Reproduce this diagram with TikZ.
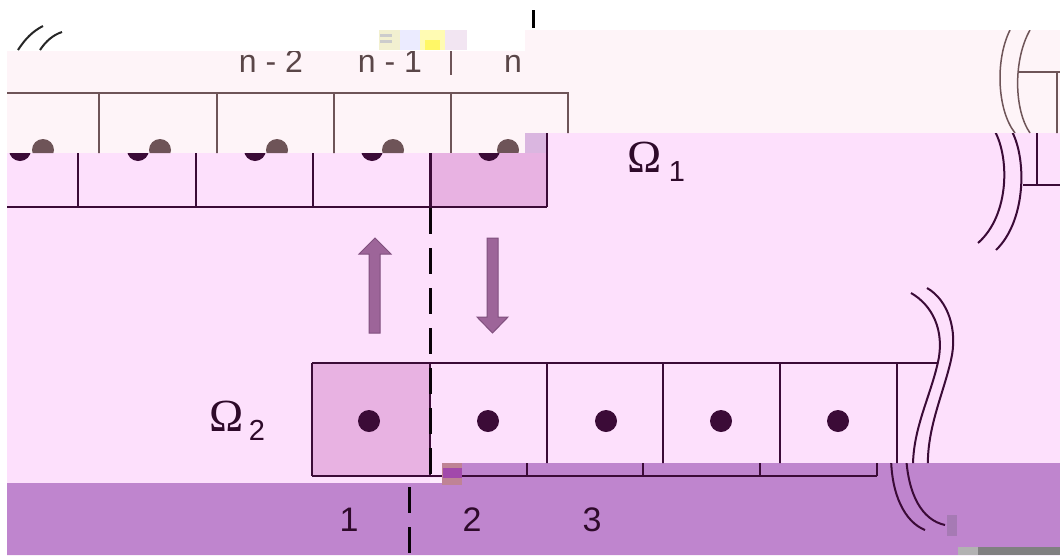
\documentclass[tikz,border=0pt]{standalone}
\usepackage{fontspec}
\setmainfont{Liberation Sans}
\newfontfamily\omegafont{Liberation Serif}
\definecolor{bandB}{HTML}{FEF4F8}
\definecolor{bandC}{HTML}{FDE0FC}
\definecolor{bandD}{HTML}{BF85CE}
\definecolor{hilite}{HTML}{E8B2E2}
\definecolor{hilite2}{HTML}{DAB6E0}
\definecolor{cdark}{HTML}{3B0B37}
\definecolor{bgrey}{HTML}{6E5458}
\definecolor{tgrey}{HTML}{5A4648}
\definecolor{txt}{HTML}{2E0A2A}
\definecolor{arrfill}{HTML}{9D6599}
\definecolor{arredge}{HTML}{80507E}
\definecolor{glitchp}{HTML}{A67AB4}
\begin{document}
\begin{tikzpicture}[x=1pt,y=-1pt,
  cline/.style={draw=cdark,line width=2pt},
  bline/.style={draw=bgrey,line width=2pt},
  cdot/.style={fill=cdark},
  bdot/.style={fill=bgrey},
  dashline/.style={draw=black!85!cdark,line width=3pt,line cap=butt},
  toplab/.style={anchor=base,inner sep=0pt,text=tgrey,font=\fontsize{32}{38}\selectfont},
  botlab/.style={anchor=base,inner sep=0pt,text=txt,font=\fontsize{34}{40}\selectfont},
  omeg/.style={anchor=base,inner sep=0pt,text=txt,font=\omegafont\fontsize{46}{54}\selectfont},
  subl/.style={anchor=base,inner sep=0pt,text=txt,font=\fontsize{29}{34}\selectfont},
  bigarrow/.style={fill=arrfill,draw=arredge,line width=1pt}]
\useasboundingbox (0,0) rectangle (1060,555);
\fill[white] (0,0) rectangle (1060,555);
% bands
\fill[bandB] (7,51) -- (525,51) -- (525,30) -- (1060,30) -- (1060,133) -- (525,133) -- (525,153) -- (7,153) -- cycle;
\fill[bandC] (7,153) -- (525,153) -- (525,133) -- (1060,133) -- (1060,463) -- (442,463) -- (442,483) -- (7,483) -- cycle;
\fill[bandD] (7,483) -- (442,483) -- (442,463) -- (1060,463) -- (1060,555) -- (7,555) -- cycle;

% ---------- band A (white) ----------
\draw[line width=2pt,draw=black!85] (18,50) .. controls (25,39) and (33,31) .. (43,26);
\draw[line width=2pt,draw=black!85] (40,50) .. controls (46,41) and (53,35) .. (62,32);
\fill[black] (532,10) rectangle (535,28);
\fill[black!30!yellow!20] (379,30) rectangle (400,50);
\fill[white!60!gray] (380,34) rectangle (392,37);
\fill[white!60!gray] (380,40) rectangle (392,43);
\fill[blue!8] (400,30) rectangle (420,50);
\fill[yellow!30!white] (420,30) rectangle (445,50);
\fill[yellow!60!white] (425,40) rectangle (440,50);
\fill[violet!10] (445,30) rectangle (467,50);

% ---------- band B (light, shifted) ----------
\begin{scope}
\clip (7,51) -- (525,51) -- (525,30) -- (1060,30) -- (1060,133) -- (525,133) -- (525,153) -- (7,153) -- cycle;
\draw[bline] (0,93) -- (568,93) -- (568,140);
\foreach \x in {99,217,334,451} \draw[bline] (\x,93) -- (\x,160);
\foreach \x in {43,160,277,393,508} \fill[bdot] (\x,150) circle (11);
\draw[draw=bgrey,line width=2.5pt] (451,50) -- (451,75);
\node[toplab] (lab2) at (271,72) {n - 2};
\node[toplab] (lab1) at (390,72) {n - 1};
\node[toplab] (labn) at (513,72) {n};
\draw[bline,line width=1.5pt] (1010,30) .. controls (995,60) and (997,110) .. (1015,133);
\draw[bline,line width=1.5pt] (1030,30) .. controls (1013,60) and (1014,110) .. (1030,133);
\draw[bline,line width=1.5pt] (1018,72) -- (1060,72);
\draw[bline,line width=1.5pt] (1057,72) -- (1057,140);
\end{scope}

% ---------- band C (pink) ----------
\begin{scope}
\clip (7,153) -- (525,153) -- (525,133) -- (1060,133) -- (1060,463) -- (442,463) -- (442,483) -- (7,483) -- cycle;
% top row remnant
\fill[hilite] (430,120) rectangle (547,207);
\fill[hilite2] (525,133) rectangle (547,153);
\draw[cline] (0,207) -- (547,207);
\foreach \x in {78,196,313,547} \draw[cline] (\x,120) -- (\x,207);
\draw[cline,line width=3pt] (430,120) -- (430,207);
\foreach \x in {20,138,255,372,489} \fill[cdot] (\x,150) circle (11);
% bottom row
\fill[hilite] (312,363) rectangle (430,476);
\draw[cline] (312,363) -- (937,363);
\draw[cline] (312,476) -- (897,476);
\foreach \x in {312,430,547,663,780,897} \draw[cline] (\x,363) -- (\x,476);
\foreach \x in {369,488,606,721,838} \fill[cdot] (\x,421) circle (11);
% dashed divider
\draw[dashline,dash pattern=on 26pt off 14pt] (430,208) -- (430,476);
% exchange arrows
\fill[bigarrow] (369,333) -- (369,254) -- (359,254) -- (375,238) -- (391,254) -- (380,254) -- (380,333) -- cycle;
\fill[bigarrow] (487,238) -- (498,238) -- (498,317) -- (508,317) -- (492.5,333) -- (477,317) -- (487,317) -- cycle;
% break marks bottom right
\draw[cline] (911,293) .. controls (932,305) and (945,330) .. (938,362) .. controls (930,398) and (912,430) .. (913,470);
\draw[cline] (927,288) .. controls (948,300) and (958,330) .. (951,360) .. controls (943,395) and (926,430) .. (928,470);
% break marks top right
\draw[cline] (993,128) .. controls (1010,155) and (1010,215) .. (978,243);
\draw[cline] (1010,128) .. controls (1027,155) and (1027,220) .. (996,250);
\draw[cline] (1037,128) -- (1037,185);
\draw[cline] (1023,185) -- (1060,185);
\end{scope}
\node[omeg] (om1) at (645,172) {Ω};
\node[subl] (s1) at (677,181) {1};
\node[omeg] (om2) at (227,431) {Ω};
\node[subl] (s2) at (257,440) {2};

% ---------- band D (purple, shifted) ----------
\begin{scope}
\clip (7,483) -- (442,483) -- (442,463) -- (1060,463) -- (1060,555) -- (7,555) -- cycle;
\draw[cline] (430,476) -- (877,476);
\foreach \x in {527,643,760,877} \draw[cline] (\x,455) -- (\x,476);
\draw[dashline,dash pattern=on 26pt off 14pt] (409,487) -- (409,560);
\draw[cline] (891,455) .. controls (891,495) and (905,522) .. (925,530);
\draw[cline] (906,455) .. controls (908,495) and (922,520) .. (945,525);
\node[botlab] (b1) at (349,531) {1};
\node[botlab] (b2) at (472,531) {2};
\node[botlab] (b3) at (592,531) {3};
\end{scope}
\fill[bandC!60!white] (430,477.5) rectangle (442,483);
\fill[glitchp] (947,515) rectangle (957,536);
\fill[gray] (978,547) rectangle (1060,555);
\fill[gray!60] (958,547) rectangle (978,555);
\fill[brown!40!bandD] (442,463) rectangle (462,485);
\fill[violet!45!bandD] (443,468) rectangle (462,478);
\end{tikzpicture}
\end{document}
